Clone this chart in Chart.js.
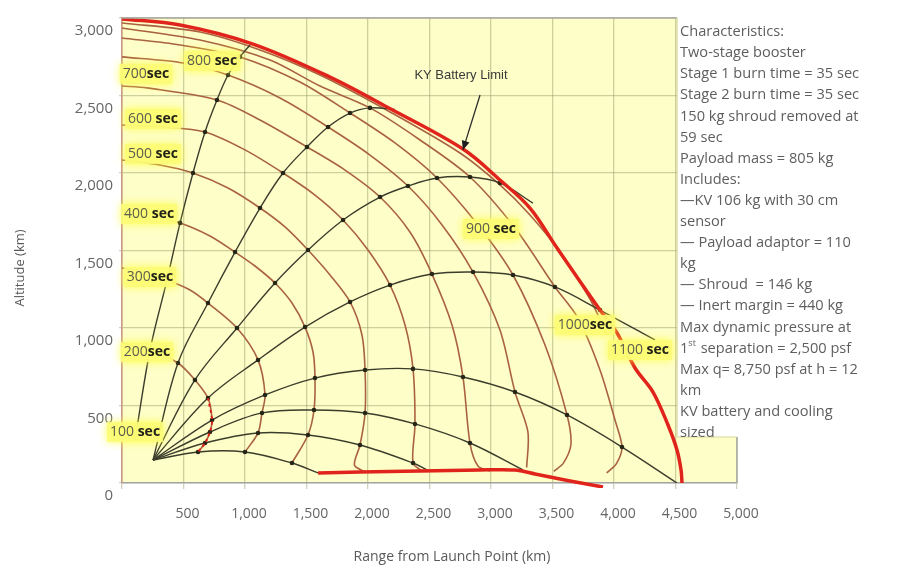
<!DOCTYPE html>
<html><head><meta charset="utf-8">
<script src="https://cdn.jsdelivr.net/npm/chart.js@4.4.0/dist/chart.umd.min.js"></script>
<style>html,body{margin:0;padding:0;background:#fff;}canvas{display:block;}</style>
</head><body>
<canvas id="c" width="904" height="588"></canvas>
<script>
// ---------- tick labels ----------
const rangeTickLabels = ['500','1,000','1,500','2,000','2,500','3,000','3,500','4,000','4,500','5,000'];
const altTickLabels = ['0','500','1,000','1,500','2,000','2,500','3,000'];

// ---------- KV battery limit (red envelope) ----------
const limitRange = [0,472,1065,1691,2154,2772,3073,3317,3537,3886,4024,4171,4317,4439,4512,4545,4553];
const limitAlt   = [2994,2955,2832,2619,2426,2155,1955,1774,1516,1116,968,742,587,374,213,84,0];
// ---------- low red line ----------
const floorRange = [1594,1935,2423,2911,3195,3358,3642,3911];
const floorAlt   = [65,71,77,84,84,58,13,-26];

// ---------- trajectories (dots at 100-sec intervals) ----------
const trajA_range = [106,228,366,472,577,675,772,862,959,1041];
const trajA_alt   = [277,858,1310,1678,2000,2265,2471,2632,2749,2826];
const trajB_range = [252,455,699,919,1122,1309,1504,1675,1854,2016,2219];
const trajB_alt   = [148,774,1161,1490,1774,2000,2168,2297,2387,2420,2410];
const trajC_range = [252,593,935,1244,1512,1797,2098,2325,2561,2829,3073,3341];
const trajC_alt   = [148,665,1000,1290,1503,1697,1845,1916,1968,1974,1936,1806];
const trajD_range = [252,699,1106,1488,1854,2179,2520,2854,3179,3520,3886,4333];
const trajD_alt   = [148,548,794,1006,1168,1277,1348,1361,1342,1265,1116,923];
const trajE_range = [252,732,1163,1569,1976,2366,2772,3195,3618,4065,4512];
const trajE_alt   = [148,406,568,677,729,736,684,587,439,232,0];
const trajF_range = [252,715,1138,1561,1976,2382,2829,3260];
const trajF_alt   = [148,329,452,471,452,381,258,84];
const trajG_range = [252,675,1106,1512,1935,2366,2480];
const trajG_alt   = [148,258,323,310,245,129,84];
const trajH_range = [252,618,1000,1382,1594];
const trajH_alt   = [148,200,200,129,65];

// ---------- time isochrones ----------
const arc200_range = [0,228,455,593,699,732,715,675,618];
const arc200_alt   = [903,858,774,665,548,406,329,258,200];
const arc300_range = [0,187,366,553,699,935,1106,1163,1138,1106,1000];
const arc300_alt   = [1387,1361,1310,1245,1161,1000,794,568,452,323,200];
const arc400_range = [0,228,472,715,919,1081,1244,1382,1488,1553,1569,1561,1512,1382];
const arc400_alt   = [1748,1723,1678,1594,1490,1400,1290,1161,1006,845,677,471,310,129];
const arc500_range = [0,309,577,862,1122,1325,1512,1691,1854,1951,1976,1976,1935,1890,1976];
const arc500_alt   = [2084,2052,2000,1903,1774,1652,1503,1342,1168,955,729,452,245,116,71];
const arc600_range = [0,309,675,1000,1309,1569,1797,2000,2179,2301,2366,2382,2366,2439];
const arc600_alt   = [2310,2297,2265,2149,2000,1858,1697,1503,1277,1019,736,381,129,77];
const arc700_range = [0,203,772,1122,1504,1813,2098,2341,2520,2683,2772,2829,2894,2992];
const arc700_alt   = [2561,2549,2471,2342,2168,2019,1845,1619,1348,1019,684,258,110,77];
const arc800_range = [0,496,862,1285,1675,2016,2325,2602,2854,3073,3195,3300,3290];
const arc800_alt   = [2749,2710,2632,2484,2297,2116,1916,1665,1361,987,587,330,100];
const arc900_range = [0,472,959,1447,1854,2219,2561,2894,3179,3439,3618,3650,3590,3510];
const arc900_alt   = [2871,2826,2749,2587,2387,2194,1968,1665,1342,890,439,250,130,75];
const arc1000_range = [0,634,1203,1610,2016,2423,2829,3195,3520,3707,3886,4008,4065,4020,3940];
const arc1000_alt   = [2936,2858,2729,2561,2420,2213,1974,1645,1265,1065,729,406,232,125,65];
const arc1100_range = [0,634,1122,1610,2179,2748,3073,3317,3561,3805,3943];
const arc1100_alt   = [2968,2910,2794,2632,2394,2129,1923,1729,1490,1187,955];

// ---------- isochrone labels ----------
const secNumber = ['100 ','200','300','400 ','500 ','600 ','700','800 ','900 ','1000','1100 '];
const secRange  = [106,203,228,220,252,252,195,732,3000,3764,4211];
const secAlt    = [329,845,1329,1736,2123,2349,2639,2723,1639,1019,858];

// ---------- annotation ----------
const batteryText = 'KY Battery Limit';
const batteryTextAt = [2756, 2632];
const batteryArrowFrom = [2911, 2503];
const batteryArrowTo = [2772, 2149];

const notes = [
  'Characteristics:',
  'Two-stage booster',
  'Stage 1 burn time = 35 sec',
  'Stage 2 burn time = 35 sec',
  '150 kg shroud removed at',
  '59 sec',
  'Payload mass = 805 kg',
  'Includes:',
  '\u2014KV 106 kg with 30 cm',
  'sensor',
  '\u2014 Payload adaptor = 110',
  'kg',
  '\u2014 Shroud  = 146 kg',
  '\u2014 Inert margin = 440 kg',
  'Max dynamic pressure at',
  '1st separation = 2,500 psf',
  'Max q= 8,750 psf at h = 12',
  'km',
  'KV battery and cooling',
  'sized'
];

// ---------- helpers ----------
const pts = (xs, ys) => xs.map((x, i) => ({x, y: ys[i]}));
const TRAJ = '#3b3d2c', ARC = '#a9623f', RED = '#e1241b';
const traj = (xs, ys) => ({
  data: pts(xs, ys), showLine: true, borderColor: TRAJ, borderWidth: 1.4, tension: 0.35,
  pointBackgroundColor: '#262618', pointBorderWidth: 0, pointHoverRadius: 0,
  pointRadius: c => (c.dataIndex === 0 || c.dataIndex === xs.length - 1) ? 0 : 2.3
});
const arc = (xs, ys) => ({
  data: pts(xs, ys), showLine: true, borderColor: ARC, borderWidth: 1.6, tension: 0.3, pointRadius: 0
});

const datasets = [
  {data: pts(limitRange, limitAlt), showLine: true, borderColor: RED, borderWidth: 3.5, tension: 0.35, pointRadius: 0},
  {data: pts(floorRange, floorAlt), showLine: true, borderColor: RED, borderWidth: 3.5, tension: 0.3, pointRadius: 0,
   clip: {left: 0, top: 0, right: 0, bottom: 5}},
  {data: pts(arc200_range.slice(4), arc200_alt.slice(4)), showLine: true, borderColor: RED, borderWidth: 2,
   borderDash: [3, 3], tension: 0.3, pointRadius: 0},
  traj(trajA_range, trajA_alt), traj(trajB_range, trajB_alt), traj(trajC_range, trajC_alt),
  traj(trajD_range, trajD_alt), traj(trajE_range, trajE_alt), traj(trajF_range, trajF_alt),
  traj(trajG_range, trajG_alt), traj(trajH_range, trajH_alt),
  arc(arc200_range, arc200_alt), arc(arc300_range, arc300_alt), arc(arc400_range, arc400_alt),
  arc(arc500_range, arc500_alt), arc(arc600_range, arc600_alt), arc(arc700_range, arc700_alt),
  arc(arc800_range, arc800_alt), arc(arc900_range, arc900_alt), arc(arc1000_range, arc1000_alt),
  arc(arc1100_range, arc1100_alt)
];

const FONT = '"Open Sans", "Liberation Sans", sans-serif';

const decor = {
  id: 'decor',
  beforeDraw(chart) {
    const {ctx, chartArea: a} = chart;
    ctx.save();
    ctx.fillStyle = '#fefec9';
    ctx.fillRect(a.left, a.top, a.right - a.left, a.bottom - a.top);
    ctx.restore();
  },
  afterDatasetsDraw(chart) {
    const {ctx, chartArea: a, scales: {x, y}} = chart;
    ctx.save();
    // top / right frame
    ctx.strokeStyle = '#a8a8a0'; ctx.lineWidth = 1.5;
    ctx.beginPath(); ctx.moveTo(a.left, a.top); ctx.lineTo(a.right, a.top); ctx.lineTo(a.right, a.bottom); ctx.stroke();

    // notes box
    ctx.fillStyle = '#ffffff';
    ctx.fillRect(677, 0, 904 - 677, 437);
    ctx.strokeStyle = '#d6d69a'; ctx.lineWidth = 1.2;
    ctx.beginPath(); ctx.moveTo(677, a.top); ctx.lineTo(677, 437); ctx.lineTo(a.right, 437); ctx.stroke();
    ctx.fillStyle = '#5e5e5e';
    ctx.textBaseline = 'middle'; ctx.textAlign = 'left';
    notes.forEach((line, i) => {
      const yy = 32 + i * 21.1;
      ctx.font = '14.6px ' + FONT;
      if (line.startsWith('1st')) {
        ctx.fillText('1', 680, yy);
        let w = ctx.measureText('1').width;
        ctx.font = '9px ' + FONT;
        ctx.fillText('st', 680 + w, yy - 5);
        w += ctx.measureText('st').width + 1;
        ctx.font = '14.6px ' + FONT;
        ctx.fillText(line.slice(3), 680 + w, yy);
      } else {
        ctx.fillText(line, 680, yy);
      }
    });

    // isochrone labels
    secNumber.forEach((num, i) => {
      const px = x.getPixelForValue(secRange[i]);
      const py = y.getPixelForValue(secAlt[i]);
      ctx.font = '14px ' + FONT;
      const w1 = ctx.measureText(num).width;
      ctx.font = 'bold 14px ' + FONT;
      const w2 = ctx.measureText('sec').width;
      const w = w1 + w2;
      const left = px - w / 2;
      ctx.save();
      ctx.shadowColor = 'rgba(255,255,60,0.95)';
      ctx.shadowBlur = 8;
      ctx.fillStyle = 'rgba(252,252,120,0.9)';
      ctx.fillRect(left - 3, py - 10, w + 6, 20);
      ctx.restore();
      ctx.textBaseline = 'middle';
      ctx.font = '14px ' + FONT; ctx.fillStyle = '#5c5c50';
      ctx.fillText(num, left, py);
      ctx.font = 'bold 14px ' + FONT; ctx.fillStyle = '#22221a';
      ctx.fillText('sec', left + w1, py);
    });

    // KV battery limit annotation
    ctx.font = '13px "Liberation Sans", sans-serif';
    ctx.fillStyle = '#3a3a3a'; ctx.textAlign = 'center'; ctx.textBaseline = 'middle';
    ctx.fillText(batteryText, x.getPixelForValue(batteryTextAt[0]), y.getPixelForValue(batteryTextAt[1]));
    const fx = x.getPixelForValue(batteryArrowFrom[0]), fy = y.getPixelForValue(batteryArrowFrom[1]);
    const tx = x.getPixelForValue(batteryArrowTo[0]), ty = y.getPixelForValue(batteryArrowTo[1]);
    ctx.strokeStyle = '#2e2e2e'; ctx.lineWidth = 1.3;
    ctx.beginPath(); ctx.moveTo(fx, fy); ctx.lineTo(tx, ty); ctx.stroke();
    const ang = Math.atan2(ty - fy, tx - fx);
    ctx.fillStyle = '#1e1e1e';
    ctx.beginPath();
    ctx.moveTo(tx, ty);
    ctx.lineTo(tx - 9 * Math.cos(ang) + 4 * Math.sin(ang), ty - 9 * Math.sin(ang) - 4 * Math.cos(ang));
    ctx.lineTo(tx - 9 * Math.cos(ang) - 4 * Math.sin(ang), ty - 9 * Math.sin(ang) + 4 * Math.cos(ang));
    ctx.closePath(); ctx.fill();
    ctx.restore();
  },
  afterDraw(chart) {
    const {ctx} = chart;
    ctx.save();
    ctx.fillStyle = '#595959';
    ctx.font = '14px ' + FONT;
    ctx.textAlign = 'center'; ctx.textBaseline = 'middle';
    ctx.fillText('Range from Launch Point (km)', 452, 557);
    ctx.translate(20, 268);
    ctx.rotate(-Math.PI / 2);
    ctx.font = '13px ' + FONT;
    ctx.fillText('Altitude (km)', 0, 0);
    ctx.restore();
  }
};

new Chart(document.getElementById('c'), {
  type: 'scatter',
  data: {datasets},
  plugins: [decor],
  options: {
    responsive: false, animation: false, devicePixelRatio: 1,
    layout: {padding: {top: 18, right: 167, left: 0, bottom: 0}},
    plugins: {legend: {display: false}, tooltip: {enabled: false}},
    events: [],
    scales: {
      x: {
        type: 'linear', min: 0, max: 5000,
        afterFit: s => { s.height = 105; },
        afterBuildTicks: s => { s.ticks = [0,500,1000,1500,2000,2500,3000,3500,4000,4500,5000].map(v => ({value: v})); },
        ticks: {
          callback: (v, i) => i === 0 ? '' : rangeTickLabels[i - 1],
          color: '#666', font: {family: FONT, size: 14}, padding: 17, labelOffset: 4, maxRotation: 0, autoSkip: false
        },
        grid: {color: 'rgba(140,145,95,0.42)', lineWidth: 1.3, tickLength: 6},
        border: {color: '#a3a3a3', width: 1.6}
      },
      y: {
        type: 'linear', min: 0, max: 3000,
        afterFit: s => { s.width = 122; },
        afterBuildTicks: s => { s.ticks = [0,500,1000,1500,2000,2500,3000].map(v => ({value: v})); },
        ticks: {
          callback: (v, i) => altTickLabels[i],
          color: '#666', font: {family: FONT, size: 15}, padding: 6, labelOffset: 13, autoSkip: false
        },
        grid: {color: 'rgba(140,145,95,0.42)', lineWidth: 1.3, tickLength: 3},
        border: {color: '#c99a83', width: 1.6}
      }
    }
  }
});
</script>
</body></html>
